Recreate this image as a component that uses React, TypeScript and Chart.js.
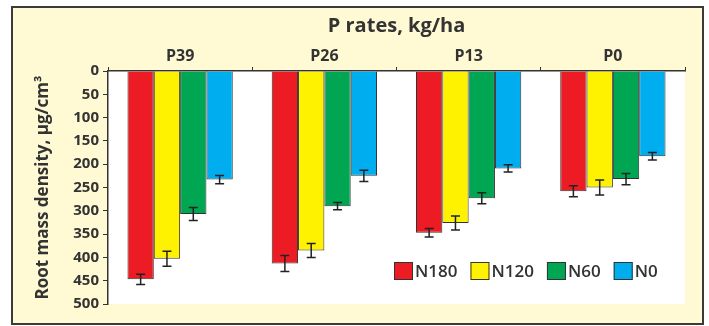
import React, { useEffect, useRef } from "react";
import { Chart, registerables } from "chart.js";

Chart.register(...registerables);

const categories = ["P39", "P26", "P13", "P0"];
const seriesNames = ["N180", "N120", "N60", "N0"];
const n180 = [447, 413, 347, 258];
const n120 = [403, 385, 326, 250];
const n60 = [307, 290, 273, 232];
const n0 = [233, 225, 209, 183];
const n180Err = [11, 17, 9, 12];
const n120Err = [16, 15, 15, 16];
const n60Err = [14, 8, 12, 12];
const n0Err = [9, 12, 8, 8];
const seriesColors = ["#ED1C24", "#FFF200", "#00A651", "#00AEEF"];
const yMin = 0;
const yMax = 500;
const yStep = 50;

const FONT = "'Open Sans', 'DejaVu Sans', sans-serif";
const TEXT = "#333333";

const framePlugin = {
  id: "frame",
  beforeDraw(chart: any) {
    const ctx = chart.ctx;
    const a = chart.chartArea;
    ctx.save();
    ctx.fillStyle = "#FFFAD4";
    ctx.fillRect(12, 7, 691, 317);
    ctx.fillStyle = "#FFFFFF";
    ctx.fillRect(a.left, a.top, a.right - a.left, a.bottom - a.top);
    ctx.strokeStyle = "#3a3a3a";
    ctx.lineWidth = 2;
    ctx.strokeRect(12, 7, 691, 317);
    ctx.restore();
  },
};

const errorBarPlugin = {
  id: "errorBars",
  afterDatasetsDraw(chart: any) {
    const ctx = chart.ctx;
    const y = chart.scales.y;
    ctx.save();
    ctx.strokeStyle = "#222222";
    ctx.lineWidth = 1.5;
    chart.data.datasets.forEach((ds: any, di: number) => {
      const meta = chart.getDatasetMeta(di);
      meta.data.forEach((el: any, i: number) => {
        const v = ds.data[i];
        const e = ds.errors[i];
        const x = el.x;
        const y1 = y.getPixelForValue(v - e);
        const y2 = y.getPixelForValue(v + e);
        ctx.beginPath();
        ctx.moveTo(x, y1);
        ctx.lineTo(x, y2);
        ctx.moveTo(x - 4.5, y1);
        ctx.lineTo(x + 4.5, y1);
        ctx.moveTo(x - 4.5, y2);
        ctx.lineTo(x + 4.5, y2);
        ctx.stroke();
      });
    });
    ctx.restore();
  },
};

const legendPlugin = {
  id: "customLegend",
  afterDraw(chart: any) {
    const ctx = chart.ctx;
    const a = chart.chartArea;
    ctx.save();
    ctx.font = `600 17px ${FONT}`;
    ctx.textBaseline = "middle";
    ctx.textAlign = "left";
    let x = a.right - 291;
    const cy = a.bottom - 33;
    chart.data.datasets.forEach((ds: any) => {
      ctx.fillStyle = ds.backgroundColor;
      ctx.fillRect(x, cy - 9, 19, 18);
      ctx.strokeStyle = "#333333";
      ctx.lineWidth = 1;
      ctx.strokeRect(x + 0.5, cy - 8.5, 18, 17);
      ctx.fillStyle = TEXT;
      ctx.fillText(ds.label, x + 21, cy + 1);
      const w = ctx.measureText(ds.label).width;
      x += 21 + w + 13;
    });
    ctx.restore();
  },
};

export default function App() {
  const ref = useRef<HTMLCanvasElement | null>(null);
  useEffect(() => {
    if (!ref.current) return;
    const values = [n180, n120, n60, n0];
    const errs = [n180Err, n120Err, n60Err, n0Err];
    const chart = new Chart(ref.current, {
      type: "bar",
      data: {
        labels: categories,
        datasets: seriesNames.map((name, i) => ({
          label: name,
          data: values[i],
          errors: errs[i],
          backgroundColor: seriesColors[i],
          borderColor: "#333333",
          borderWidth: 1,
          barPercentage: 1,
          categoryPercentage: 0.73,
        })) as any,
      },
      options: {
        animation: false,
        responsive: false,
        maintainAspectRatio: false,
        layout: { padding: { left: 0, top: 0, right: 24, bottom: 22 } },
        plugins: {
          legend: { display: false },
          tooltip: { enabled: false },
          title: { display: false },
        },
        scales: {
          x: {
            position: "top",
            afterFit: (s: any) => {
              s.height = 71;
            },
            grid: {
              offset: true,
              drawOnChartArea: false,
              drawTicks: true,
              tickLength: 4,
              color: "#333333",
            },
            border: { display: true, color: "#333333", width: 1.5 },
            ticks: {
              color: TEXT,
              font: { family: FONT, size: 16, weight: "bold" },
              padding: 1,
            },
            title: {
              display: true,
              text: "P rates, kg/ha",
              color: TEXT,
              font: { family: FONT, size: 20, weight: "bold" },
              padding: { top: 14, bottom: 0 },
            },
          },
          y: {
            reverse: true,
            min: yMin,
            max: yMax,
            afterFit: (s: any) => {
              s.width = 108;
            },
            grid: {
              drawOnChartArea: false,
              drawTicks: true,
              tickLength: 5,
              color: "#333333",
            },
            border: { display: true, color: "#333333", width: 1.5 },
            ticks: {
              stepSize: yStep,
              color: TEXT,
              font: { family: FONT, size: 15, weight: "bold" },
              padding: 4,
            },
            title: {
              display: true,
              text: "Root mass density, µg/cm³",
              color: TEXT,
              font: { family: FONT, size: 17, weight: "bold" },
              padding: { top: 33, bottom: 0 },
            },
          },
        },
      } as any,
      plugins: [framePlugin, errorBarPlugin, legendPlugin],
    });
    return () => chart.destroy();
  }, []);
  return (
    <div style={{ position: "fixed", left: 0, top: 0, width: 709, height: 326 }}>
      <canvas ref={ref} width={709} height={326} style={{ display: "block" }} />
    </div>
  );
}
